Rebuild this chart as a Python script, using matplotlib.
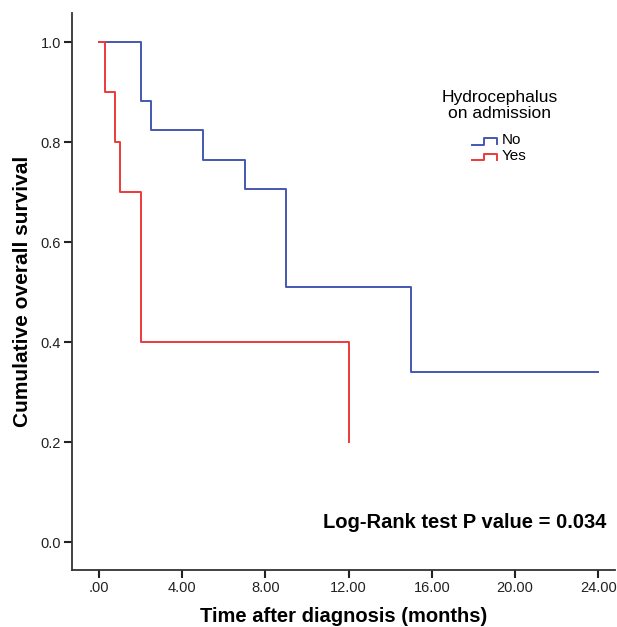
import matplotlib
matplotlib.use("Agg")
import matplotlib.pyplot as plt

plt.rcParams['font.family'] = ['Liberation Sans', 'DejaVu Sans']

# Kaplan-Meier estimates
no_times = [0, 2.0, 2.5, 5.0, 7.0, 9.0, 15.0, 24.0]
no_surv = [1.0, 0.882, 0.824, 0.765, 0.706, 0.51, 0.34, 0.34]
yes_times = [0, 0.3, 0.75, 1.0, 2.0, 12.0]
yes_surv = [1.0, 0.9, 0.8, 0.7, 0.4, 0.2]

x_ticks = [0, 4, 8, 12, 16, 20, 24]
y_ticks = [0.0, 0.2, 0.4, 0.6, 0.8, 1.0]
groups = ['No', 'Yes']
blue = '#4558b0'
red = '#ec3a3a'

fig = plt.figure(figsize=(6.17, 6.27), dpi=100)
ax = fig.add_axes([72 / 617, 1 - 570 / 627, 543 / 617, 557 / 627])

ax.step(no_times, no_surv, where='post', color=blue, lw=1.4)
ax.step(yes_times, yes_surv, where='post', color=red, lw=1.4)

ax.set_xlim(-1.3, 24.8)
ax.set_ylim(-0.056, 1.058)

ax.set_xticks(x_ticks)
ax.set_xticklabels(['.00' if v == 0 else f'{v:.2f}' for v in x_ticks])
ax.set_yticks(y_ticks)
ax.set_yticklabels([f'{v:.1f}' for v in y_ticks])

for s in ['top', 'right']:
    ax.spines[s].set_visible(False)
for s in ['left', 'bottom']:
    ax.spines[s].set_color('#333333')
    ax.spines[s].set_linewidth(1.3)
ax.tick_params(axis='both', direction='out', length=5.5, width=1.5, colors='#222222',
               labelsize=10.5, pad=2.5)

ax.set_xlabel('Time after diagnosis (months)', fontsize=14.5, fontweight='bold', labelpad=8.5)
ax.set_ylabel('Cumulative overall survival', fontsize=15, fontweight='bold', labelpad=6)

ax.text(24.4, 0.04, 'Log-Rank test P value = 0.034', fontsize=14.5, fontweight='bold',
        ha='right', va='center')

# legend drawn by hand (SPSS-like step symbols)
fig.text(500 / 617, 1 - 105.5 / 627, 'Hydrocephalus\non admission', fontsize=12.5,
         ha='center', va='center', linespacing=1.1)
for i, (g, c) in enumerate(zip(groups, [blue, red])):
    yc = 140.5 + i * 16
    xs = [472, 484, 484, 497, 497]
    ys = [yc + 4, yc + 4, yc - 3, yc - 3, yc + 3]
    fig.add_artist(plt.Line2D([x / 617 for x in xs], [1 - y / 627 for y in ys],
                              color=c, lw=1.4, transform=fig.transFigure))
    fig.text(502 / 617, 1 - yc / 627, g, fontsize=11, ha='left', va='center')

fig.savefig('out.png', dpi=100)
